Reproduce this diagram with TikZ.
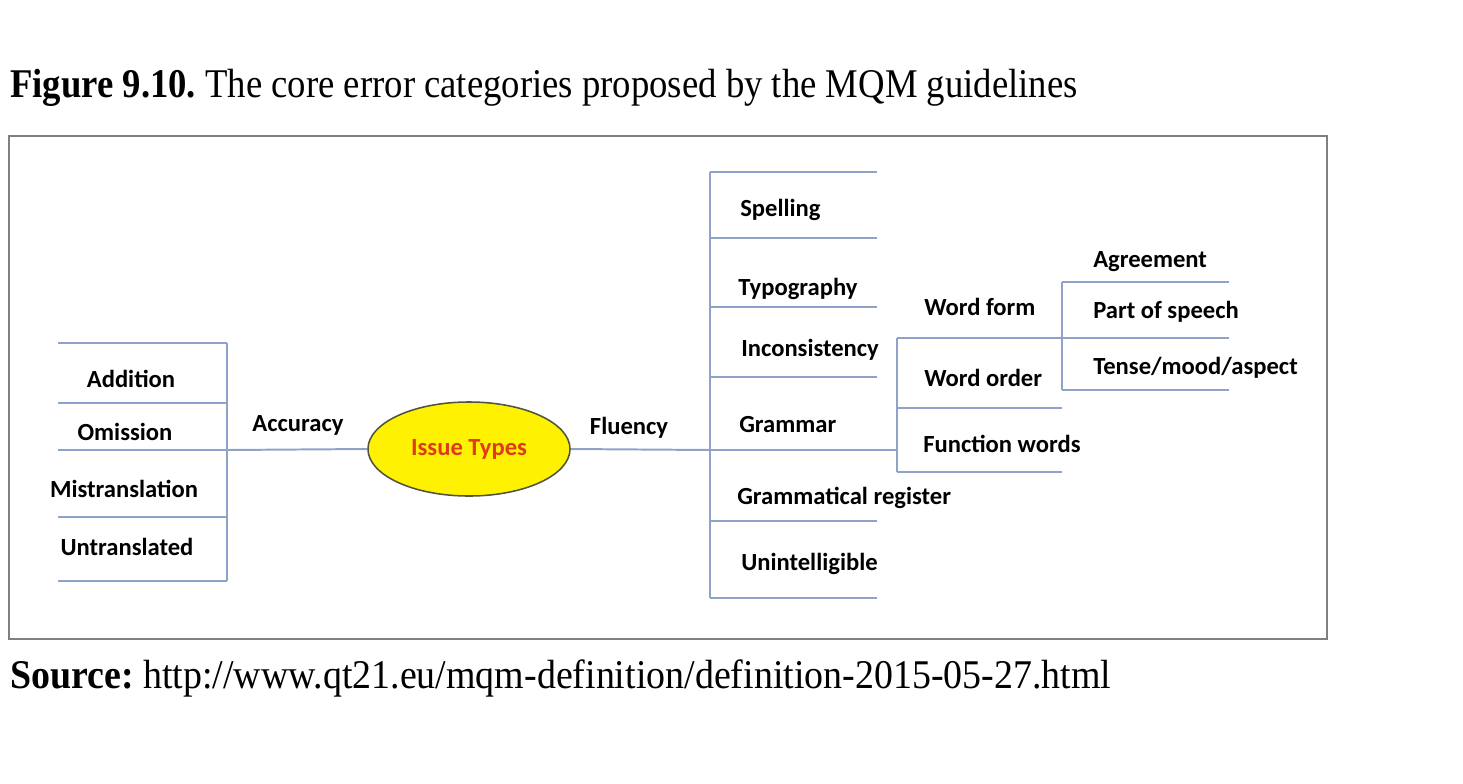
\documentclass[tikz,border=0pt]{standalone}
\usepackage{fontspec}
\setmainfont{Liberation Serif}
\newfontfamily\capserif[FakeStretch=0.90]{Liberation Serif}
\newfontfamily\srcserif[FakeStretch=0.93]{Liberation Serif}
\newfontfamily\diagsans{Carlito}
\usepackage{xcolor}
\usetikzlibrary{shapes.geometric,positioning}
\definecolor{rulecol}{RGB}{143,163,201}
\definecolor{framecol}{RGB}{128,128,128}
\definecolor{issuered}{RGB}{222,58,28}
\definecolor{issueedge}{RGB}{80,84,60}
\frenchspacing

\begin{document}
\begin{tikzpicture}[x=0.025cm,y=-0.025cm,
    rule/.style={draw=rulecol,line width=1.4pt},
    lbl/.style={font=\fontsize{17.5}{19}\selectfont\diagsans\bfseries,inner sep=0pt},
    sub/.style={lbl,anchor=mid west},
    capt/.style={font=\fontsize{29}{34}\selectfont\capserif,inner sep=0pt,anchor=base west}]
  \useasboundingbox (0,0) rectangle (1463,783);

  % caption and source
  \node[capt] (caption) at (10,97) {\textbf{Figure 9.10.} The core error categories proposed by the MQM guidelines};
  \node[capt,font=\fontsize{29}{34}\selectfont\srcserif] (source) at (10,688) {\textbf{Source:} http://www.qt21.eu/mqm-definition/definition-2015-05-27.html};
  \draw[framecol,line width=1.4pt] (9,136) rectangle (1327,639);

  % centre
  \node[ellipse,draw=issueedge,line width=1.1pt,fill=yellow,
        minimum width=5.05cm,minimum height=2.35cm,
        font=\fontsize{17.5}{19}\selectfont\diagsans\bfseries,text=issuered] (issue) at (469,449) {Issue Types};

  % joints
  \coordinate (accjoint) at (227,450);
  \coordinate (flujoint) at (710,450);
  \coordinate (gramjoint) at (897,450);
  \coordinate (formjoint) at (1062,338);

  % accuracy branch
  \draw[rule] (227,343) -- (227,581);
  \foreach \y in {343,403,450,517,581}
    \draw[rule] (58,\y) -- (227,\y);
  \draw[rule] (accjoint) -- (issue.west);
  \node[lbl,anchor=mid] (accuracy) at (298,428) {Accuracy};
  \node[lbl,anchor=mid] (addition) at (131,384) {Addition};
  \node[lbl,anchor=mid] (omission) at (125,437) {Omission};
  \node[lbl,anchor=mid] (mistrans) at (124,494) {Mistranslation};
  \node[lbl,anchor=mid] (untrans) at (127,552) {Untranslated};

  % fluency branch
  \draw[rule] (issue.east) -- (flujoint);
  \draw[rule] (710,172) -- (710,598);
  \foreach \y in {172,238,307,377,521,598}
    \draw[rule] (710,\y) -- (877,\y);
  \node[lbl,anchor=mid] (fluency) at (629,431) {Fluency};
  \node[sub] (spelling) at (740,213) {Spelling};
  \node[sub] (typo) at (738,292) {Typography};
  \node[sub] (incons) at (741,353) {Inconsistency};
  \node[sub] (grammar) at (739,429) {Grammar};
  \node[sub] (gramreg) at (737,501) {Grammatical register};
  \node[sub] (unintel) at (741,567) {Unintelligible};

  % grammar branch
  \draw[rule] (flujoint) -- (gramjoint);
  \draw[rule] (897,338) -- (897,472);
  \foreach \y in {338,408,472}
    \draw[rule] (897,\y) -- (1062,\y);
  \node[sub] (wordform) at (924,312) {Word form};
  \node[sub] (wordorder) at (924,383) {Word order};
  \node[sub] (funcwords) at (923,449) {Function words};

  % word form branch
  \draw[rule] (1062,282) -- (1062,390);
  \foreach \y in {282,338,390}
    \draw[rule] (formjoint |- 0,\y) -- (1229,\y);
  \node[sub] (agree) at (1093,264) {Agreement};
  \node[sub] (pos) at (1093,315) {Part of speech};
  \node[sub] (tense) at (1093,371) {Tense/mood/aspect};
\end{tikzpicture}
\end{document}
